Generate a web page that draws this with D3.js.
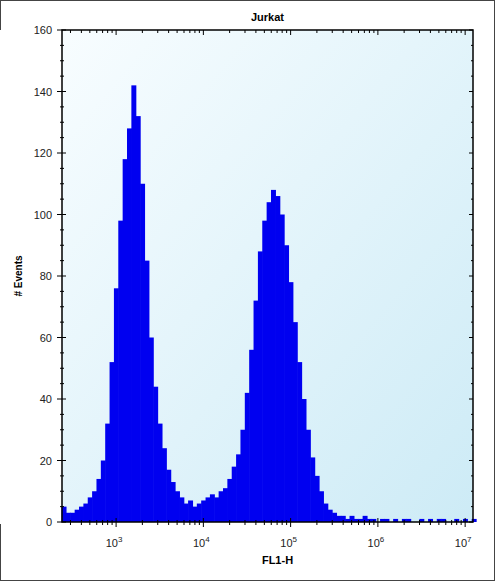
<!DOCTYPE html><html><head><script src="https://cdn.jsdelivr.net/npm/d3@7"></script>
<style>body{margin:0;background:#fff}</style></head><body><svg id="c" width="499" height="583"></svg><script>
const title="Jurkat", xLabel="FL1-H", yLabel="# Events";
const yTicks=[0,20,40,60,80,100,120,140,160];
const xTickExp=[3,4,5,6,7];
const binStart=2.40, binStep=0.05;
const counts=[5,3,3,4,5,6,8,10,14,20,32,52,76,98,118,128,142,132,110,85,60,44,32,24,17,13,10,8,6,7,5,6,7,8,9,8,10,11,14,18,22,30,42,56,72,88,98,104,108,106,100,90,78,65,52,40,30,21,15,10,6,4,3,2,2,1,2,1,1,2,1,1,0,1,1,0,1,0,1,1,0,0,1,0,1,0,1,1,0,0,1,0,1,0,1];
const svg=d3.select("#c");
svg.append("rect").attr("x",0.5).attr("y",0.5).attr("width",494).attr("height",580).attr("fill","#fff").attr("stroke","#444");
const L=62,R=473,T=30,B=522;
const x=d3.scaleLinear().domain([2.38,7.09]).range([L,R]);
const y=d3.scaleLinear().domain([0,160]).range([B,T]);
const g=svg.append("defs").append("linearGradient").attr("id","bg").attr("x1","0").attr("y1","0").attr("x2","1").attr("y2","1");
g.append("stop").attr("offset","0").attr("stop-color","#f8fdff");
g.append("stop").attr("offset","1").attr("stop-color","#cdebf6");
svg.append("rect").attr("x",L).attr("y",T).attr("width",R-L).attr("height",B-T).attr("fill","url(#bg)");
svg.append("g").selectAll("rect").data(counts).join("rect")
 .attr("x",(d,i)=>x(binStart+i*binStep-binStep/2)).attr("width",(d,i)=>x(binStep)-x(0)+0.6)
 .attr("y",d=>y(d)).attr("height",d=>B-y(d)).attr("fill","#0000f0");
svg.append("rect").attr("x",L).attr("y",T).attr("width",R-L).attr("height",B-T).attr("fill","none").attr("stroke","#000").attr("stroke-width",1.5);
svg.append("rect").attr("x",0).attr("y",T).attr("width",L-1).attr("height",B-T+2).attr("fill","#fff");
const ax=svg.append("g").attr("stroke","#000");
const minorY=d3.range(0,161,5);
minorY.forEach(v=>{const maj=v%20===0;ax.append("line").attr("x1",L-(maj?5:2)).attr("x2",L+(maj?4:2)).attr("y1",y(v)).attr("y2",y(v));
 ax.append("line").attr("x1",R-(maj?4:2)).attr("x2",R).attr("y1",y(v)).attr("y2",y(v));});
for(let e=2;e<=7;e++)for(let m=1;m<10;m++){const v=e+Math.log10(m);if(v<2.38||v>7.09)continue;const maj=m===1;
 ax.append("line").attr("x1",x(v)).attr("x2",x(v)).attr("y1",B-(maj?4:2)).attr("y2",B+(maj?5:3));
 ax.append("line").attr("x1",x(v)).attr("x2",x(v)).attr("y1",T).attr("y2",T+(maj?5:3));}
const f="Arial, Liberation Sans, sans-serif";
svg.append("g").selectAll("text").data(yTicks).join("text").attr("x",L-10).attr("y",d=>y(d)+4).attr("text-anchor","end").attr("font-family",f).attr("font-size",11).attr("fill","#222").text(d=>d);
const xt=svg.append("g").selectAll("text").data(xTickExp).join("text").attr("x",d=>x(d)-2).attr("y",B+25).attr("text-anchor","middle").attr("font-family",f).attr("font-size",11).attr("fill","#222");
xt.append("tspan").text("10");xt.append("tspan").attr("dy",-5).attr("font-size",8).text(d=>d);
svg.append("text").attr("x",(L+R)/2).attr("y",21).attr("text-anchor","middle").attr("font-family",f).attr("font-size",11).attr("font-weight","bold").text(title);
svg.append("text").attr("x",(L+R)/2+10).attr("y",B+42).attr("text-anchor","middle").attr("font-family",f).attr("font-size",11).attr("font-weight","bold").text(xLabel);
svg.append("text").attr("transform",`translate(22,${(T+B)/2}) rotate(-90)`).attr("text-anchor","middle").attr("font-family",f).attr("font-size",10).attr("font-weight","bold").text(yLabel);
</script></body></html>
